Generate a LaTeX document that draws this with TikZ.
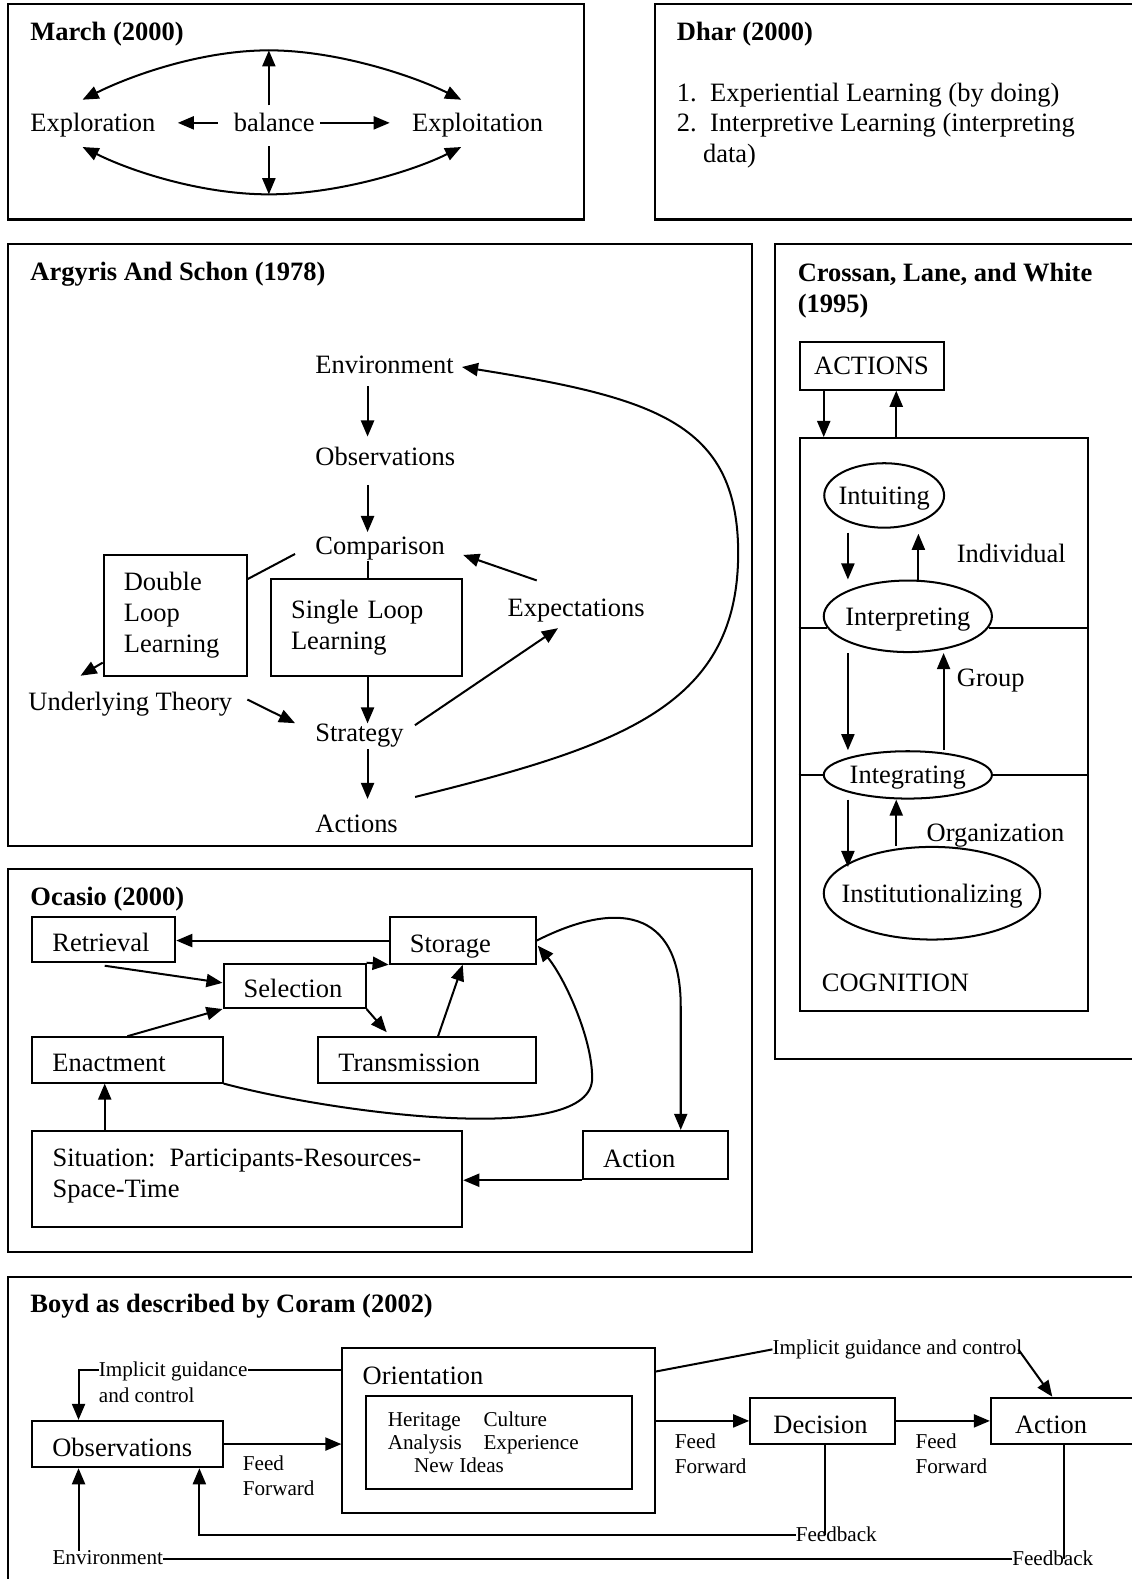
\documentclass[tikz,border=0pt]{standalone}
\usepackage{fontspec}
\setmainfont{Liberation Serif}
\usetikzlibrary{arrows.meta,shapes.geometric,calc}
\begin{document}
\begin{tikzpicture}[x=1pt,y=-1pt,
  every node/.style={inner sep=0pt},
  bigtxt/.style={font=\fontsize{26.3}{31}\selectfont},
  smalltxt/.style={font=\fontsize{21}{25}\selectfont},
  heading/.style={font=\fontsize{26.3}{31}\selectfont\bfseries, anchor=base west},
  lbl/.style={bigtxt, anchor=base west},
  slbl/.style={smalltxt, anchor=base west},
  mlbl/.style={bigtxt, anchor=north west, align=left},
  smlbl/.style={smalltxt, anchor=north west, align=left},
  panel/.style={draw, line width=2.1pt},
  tbox/.style={draw, line width=2pt, bigtxt, align=left, inner xsep=20pt},
  sbox/.style={tbox, text height=24pt, text depth=0pt},
  plainbox/.style={draw, line width=2pt},
  oval/.style={draw, ellipse, line width=2pt, bigtxt, text depth=0pt},
  conn/.style={line width=2pt},
  arr/.style={conn, -{Triangle[length=16pt,width=13pt]}},
]
\useasboundingbox (0,0) rectangle (1124,1568);
\clip (0,0) rectangle (1124,1568);

% ---------------- March (2000)
\draw[panel] (8,4) rectangle (580,218);
\node[heading] (marchT) at (30,40) {March (2000)};
\node[lbl] (explor) at (30,131) {Exploration};
\node[lbl] (bal) at (232,131) {balance};
\node[lbl] (exploit) at (409,131) {Exploitation};
\coordinate (mtop) at (267,50);
\coordinate (mbot) at (267,193);
\coordinate (mtl) at (82,99);
\coordinate (mtr) at (458,99);
\coordinate (mbl) at (82,146);
\coordinate (mbr) at (458,146);
\draw[arr, shorten <=16pt, shorten >=22pt] (bal.west) -- (bal.west -| explor.east);
\draw[arr, shorten <=5pt, shorten >=22pt] (bal.east) -- (bal.east -| exploit.west);
\draw[arr, shorten <=8pt] (mtop |- bal.north) -- (mtop);
\draw[arr, shorten <=14pt] (mbot |- bal.south) -- (mbot);
\draw[arr] (mtop) .. controls (200,50) and (130,75) .. (mtl);
\draw[arr] (mtop) .. controls (334,50) and (410,75) .. (mtr);
\draw[arr] (mbot) .. controls (200,193) and (130,170) .. (mbl);
\draw[arr] (mbot) .. controls (334,193) and (410,170) .. (mbr);

% ---------------- Dhar (2000)
\draw[panel] (650,4) rectangle (1140,218);
\node[heading] (dharT) at (672,40) {Dhar (2000)};
\node[lbl] (dhar1) at (672,101) {\makebox[33pt][l]{1.}Experiential Learning (by doing)};
\node[lbl] (dhar2) at (672,131) {\makebox[33pt][l]{2.}Interpretive Learning (interpreting};
\node[lbl] (dhar3) at (698,161) {data)};

% ---------------- Argyris and Schon (1978)
\draw[panel] (8,242) rectangle (747,840);
\node[heading] (argT) at (30,279) {Argyris And Schon (1978)};
\node[lbl] (env) at (313,371) {Environment};
\node[lbl] (aobs) at (313,462) {Observations};
\node[lbl] (comp) at (313,551) {Comparison};
\node[lbl] (expt) at (504,612) {Expectations};
\node[lbl] (under) at (28,706) {Underlying Theory};
\node[lbl] (strat) at (313,736) {Strategy};
\node[lbl] (acts) at (313,827) {Actions};
\node[tbox, minimum width=142pt, minimum height=120pt, text width=102pt] (dbl) at (174,611) {Double\\Loop\\Learning};
\node[tbox, minimum width=190pt, minimum height=96pt, text width=150pt] (sgl) at (364,623) {Single Loop\\Learning};
\coordinate (ax) at (365,0);
\draw[arr, shorten <=12pt, shorten >=10pt] (env.south -| ax) -- (aobs.north -| ax);
\draw[arr, shorten <=19pt, shorten >=5pt] (aobs.south -| ax) -- (comp.north -| ax);
\draw[conn] (comp.south -| ax) -- (sgl.north -| ax);
\draw[arr] (sgl.south -| ax) -- (strat.north -| ax);
\draw[arr, shorten <=2pt, shorten >=16pt] (strat.south -| ax) -- (acts.north -| ax);
\draw[arr] ($(acts.north east)+(17,-18)$) .. controls (620,740) and (735,700) .. (733,545)
  .. controls (731,420) and (650,395) .. ($(env.east)+(8,2)$);
\draw[arr] ($(expt.north west)+(29,-18)$) -- ($(comp.east)+(18,6)$);
\draw[arr] ($(strat.east)+(11,-10)$) -- ($(expt.south)+(-18,6)$);
\draw[arr] ($(under.east)+(15,-5)$) -- ($(strat.west)+(-20,-12)$);
\draw[conn] ($(comp.west)+(-20,5)$) -- ($(dbl.north east)+(0,25)$);
\draw[arr] ($(dbl.south west)+(0,-14)$) -- ($(dbl.south west)+(-22,-1)$);

% ---------------- Crossan, Lane, and White (1995)
\draw[panel] (770,242) rectangle (1140,1052);
\node[heading, anchor=north west, align=left] (croT) at (792,261) {Crossan, Lane, and White\\(1995)};
\node[plainbox, bigtxt, minimum width=143pt, minimum height=47pt] (actbox) at (865.5,363.5) {ACTIONS};
\node[plainbox, minimum width=286pt, minimum height=569pt] (cog) at (937,719.5) {};
\node[oval, minimum width=119pt, minimum height=64pt] (intu) at (878,492) {\makebox[0pt]{Intuiting}};
\node[oval, minimum width=167pt, minimum height=71pt] (interp) at (901.5,612) {\makebox[0pt]{Interpreting}};
\node[oval, minimum width=167pt, minimum height=47pt] (integ) at (901.5,769.5) {\makebox[0pt]{Integrating}};
\node[oval, minimum width=215pt, minimum height=92pt] (inst) at (925.5,887) {\makebox[0pt]{Institutionalizing}};
\node[lbl] (indiv) at (950,559) {Individual};
\node[lbl] (grp) at (950,682) {Group};
\node[lbl] (org) at (920,836) {Organization};
\node[lbl] (cogT) at (816,985) {COGNITION};
\coordinate (cx1) at (818,0);
\coordinate (cx2) at (890,0);
\coordinate (cx3) at (842,0);
\coordinate (cx4) at (912,0);
\coordinate (cx5) at (937,0);
\draw[arr] (actbox.south -| cx1) -- (cog.north -| cx1);
\draw[arr] (cog.north -| cx2) -- (actbox.south -| cx2);
\draw[arr, shorten <=4pt] (intu.south -| cx3) -- (interp.north -| cx3);
\draw[arr, shorten >=5pt] (interp.north -| cx4) -- (intu.south -| cx4);
\draw[arr] (interp.south -| cx3) -- (integ.north -| cx3);
\draw[arr] (integ.north -| cx5) -- (interp.south -| cx5);
\draw[arr, shorten >=-21pt] (integ.south -| cx3) -- (inst.north -| cx3);
\draw[arr] (inst.north -| cx2) -- (integ.south -| cx2);
\draw[conn] (cog.west |- interp.188) -- (interp.188);
\draw[conn] (interp.-8) -- (cog.east |- interp.-8);
\draw[conn] (cog.west |- integ.west) -- (integ.west);
\draw[conn] (integ.east) -- (cog.east |- integ.east);

% ---------------- Ocasio (2000)
\draw[panel] (8,863) rectangle (747,1243);
\node[heading] (ocaT) at (30,899) {Ocasio (2000)};
\node[sbox, minimum width=142pt, minimum height=44pt, text width=102pt] (ret) at (103,933) {Retrieval};
\node[sbox, minimum width=145pt, minimum height=46pt, text width=105pt] (stor) at (459.5,934) {Storage};
\node[sbox, minimum width=141pt, minimum height=44pt, text width=101pt] (sel) at (292.5,979) {Selection};
\node[sbox, minimum width=216pt, minimum height=45pt, text width=176pt] (trans) at (424,1052.5) {Transmission};
\node[sbox, minimum width=189pt, minimum height=45pt, text width=149pt] (enact) at (126.5,1052.5) {Enactment};
\node[plainbox, minimum width=427pt, minimum height=95pt] (sit) at (245.5,1170.5) {};
\node[mlbl] (sitT) at (52,1140.6) {Situation:\hspace{14pt}Participants-Resources-\\Space-Time};
\node[sbox, minimum width=144pt, minimum height=48pt, text width=104pt] (act) at (651,1147) {Action};
\coordinate (ex) at (104,0);
\coordinate (acx) at (676,0);
\draw[arr] (stor.west) -- (stor.west -| ret.east);
\draw[arr] ($(ret.south)+(1,3)$) -- ($(sel.west)+(0,-3)$);
\draw[arr] (sel.north east) -- (stor.south west);
\draw[arr] (sel.south east) -- ($(trans.north west)+(69,-4)$);
\draw[arr] ($(trans.north west)+(120,0)$) -- (stor.south);
\draw[arr] (enact.north) -- (sel.south west);
\draw[arr] (enact.south east) .. controls (330,1105) and (590,1140) .. (588,1070)
  .. controls (588,1030) and (560,970) .. ($(stor.east)+(1,5)$);
\draw[arr] (stor.east) .. controls (610,895) and (676,900) .. (676,1000) -- (act.north -| acx);
\draw[arr] (act.south west) -- (act.south west -| sit.east);
\draw[arr] (sit.north -| ex) -- (enact.south -| ex);

% ---------------- Boyd as described by Coram (2002)
\draw[panel] (8,1268) rectangle (1140,1590);
\node[heading] (boydT) at (30,1303) {Boyd as described by Coram (2002)};
\node[plainbox, minimum width=310pt, minimum height=163pt] (orient) at (495,1420.5) {};
\node[lbl] (orientT) at (360,1375) {Orientation};
\node[plainbox, minimum width=265pt, minimum height=93pt] (inner) at (495.5,1432.5) {};
\node[smlbl, font=\fontsize{21}{23}\selectfont] (innerT) at (385,1401.7)
  {\makebox[95pt][l]{Heritage}Culture\\\makebox[95pt][l]{Analysis}Experience\\\hspace*{26pt}New Ideas};
\node[sbox, minimum width=189pt, minimum height=46pt, text width=149pt] (bobs) at (126.5,1434) {Observations};
\node[sbox, inner xsep=23pt, minimum width=144pt, minimum height=46pt, text width=98pt] (dec) at (817,1411) {Decision};
\node[sbox, inner xsep=24pt, minimum width=156pt, minimum height=46pt, text width=108pt] (bact) at (1062,1411) {Action};
\node[smlbl] (ff1) at (241,1445.5) {Feed\\Forward};
\node[smlbl] (ff2) at (670,1423.5) {Feed\\Forward};
\node[smlbl] (ff3) at (909,1423.5) {Feed\\Forward};
\node[smlbl] (igl) at (98,1352.5) {Implicit guidance\\and control};
\node[slbl] (igr) at (767,1345) {Implicit guidance and control};
\node[slbl] (fb1) at (790,1531) {Feedback};
\node[slbl] (fb2) at (1005,1555) {Feedback};
\node[slbl] (benv) at (52,1554) {Environment};
\coordinate (ig) at (0,1360);
\coordinate (ir) at (0,1362);
\coordinate (ox) at (78,0);
\coordinate (fx) at (198,0);
\coordinate (dx) at (819,0);
\coordinate (ax2) at (1045,0);
\coordinate (ax3) at (1057,0);
\draw[arr] (bobs.east) -- (bobs.east -| orient.west);
\draw[arr] (dec.west -| orient.east) -- (dec.west);
\draw[arr] (dec.east) -- (bact.west);
\draw[conn] (orient.west |- ig) -- (igl.east |- ig);
\draw[arr] (igl.west |- ig) -| (bobs.north -| ox);
\draw[conn] (orient.east |- ir) -- (igr.west);
\draw[arr] ($(igr.east)+(-4,0)$) -- (bact.north -| ax2);
\draw[conn] (dec.south -| dx) -- (fb1.center -| dx);
\draw[arr] (fb1.west) -| (bobs.south -| fx);
\draw[conn] (bact.south -| ax3) -- (fb2.center -| ax3);
\draw[conn] (fb2.west) -- (benv.east |- fb2.west);
\draw[arr] (benv.north -| ox) -- (bobs.south -| ox);
\end{tikzpicture}
\end{document}
